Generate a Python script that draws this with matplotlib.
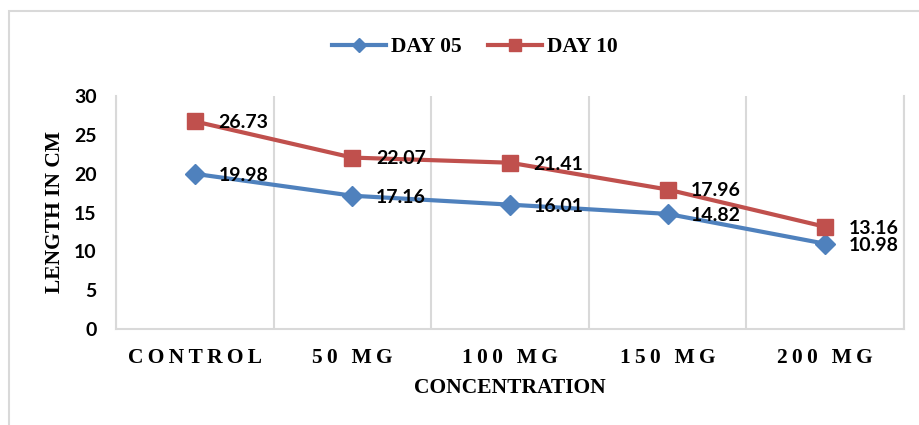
import matplotlib
matplotlib.use("Agg")
import matplotlib.pyplot as plt
from matplotlib.patches import Rectangle
import numpy as np

categories = ["CONTROL", "50 MG", "100 MG", "150 MG", "200 MG"]
day05 = [19.98, 17.16, 16.01, 14.82, 10.98]
day10 = [26.73, 22.07, 21.41, 17.96, 13.16]
yticks = [0, 5, 10, 15, 20, 25, 30]

BLUE = "#4F81BD"
RED = "#C0504D"
GRID = "#D9D9D9"
SERIF = "Liberation Serif"
SANS = "Lato"

def spaced(s):
    return "\u2009".join(list(s))

fig = plt.figure(figsize=(9.19, 4.25), dpi=100)
W, H = 919, 425
ax = fig.add_axes([116 / W, 1 - 329 / H, (904 - 116) / W, (329 - 96) / H])

x = np.arange(len(categories))
ax.plot(x, day05, color=BLUE, lw=3, marker="D", ms=10, label="DAY 05", zorder=3)
ax.plot(x, day10, color=RED, lw=3, marker="s", ms=11, label="DAY 10", zorder=3)

for xi, v in zip(x, day05):
    ax.annotate(f"{v:.2f}", (xi, v), xytext=(17, -1), textcoords="offset points",
                ha="left", va="center", fontsize=14, fontweight="bold", family=SANS)
for xi, v in zip(x, day10):
    ax.annotate(f"{v:.2f}", (xi, v), xytext=(17, -1), textcoords="offset points",
                ha="left", va="center", fontsize=14, fontweight="bold", family=SANS)

ax.set_xlim(-0.5, len(categories) - 0.5)
ax.set_ylim(0, 30)
ax.set_yticks(yticks)
ax.set_yticklabels([str(t) for t in yticks], fontsize=14, fontweight="bold", family=SANS)
ax.set_xticks(x)
ax.set_xticklabels([spaced(c) for c in categories], fontsize=15.5, fontweight="bold", family=SERIF)
ax.set_xticks(np.arange(len(categories) + 1) - 0.5, minor=True)
ax.tick_params(axis="both", which="both", length=0)
ax.tick_params(axis="x", which="major", pad=14)
ax.tick_params(axis="y", pad=14)
ax.grid(True, which="minor", axis="x", color=GRID, lw=1.5)
ax.grid(False, which="major")
for s in ["left", "bottom", "right"]:
    ax.spines[s].set_color(GRID)
    ax.spines[s].set_linewidth(1.5)
ax.spines["top"].set_visible(False)

fig.text(510 / W, 1 - 388 / H, "CONCENTRATION", ha="center", va="center",
         fontsize=15.5, fontweight="bold", family=SERIF)
fig.text(55 / W, 1 - 212 / H, "LENGTH IN CM", ha="center", va="center", rotation=90,
         fontsize=15.5, fontweight="bold", family=SERIF)

leg = fig.legend(loc="center", bbox_to_anchor=(475 / W, 1 - 47 / H), ncol=2, frameon=False,
                 prop={"family": SERIF, "weight": "bold", "size": 15.5},
                 handlelength=2.5, handletextpad=0.25, columnspacing=1.2, markerscale=0.75)

fig.patches.append(Rectangle((9 / W, -0.1), 1.2, 1 - 11 / H + 0.1, transform=fig.transFigure,
                             fill=False, edgecolor=GRID, lw=1.5))

fig.savefig("out.png", dpi=100)
